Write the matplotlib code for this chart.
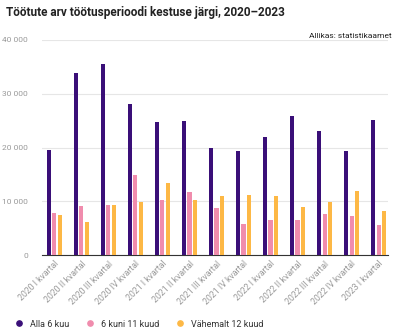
import numpy as np
import matplotlib.pyplot as plt
from matplotlib.ticker import FuncFormatter
from matplotlib.lines import Line2D

plt.rcParams['font.family'] = ['Roboto', 'DejaVu Sans']

quarters = ["2020 I kvartal", "2020 II kvartal", "2020 III kvartal", "2020 IV kvartal",
            "2021 I kvartal", "2021 II kvartal", "2021 III kvartal", "2021 IV kvartal",
            "2022 I kvartal", "2022 II kvartal", "2022 III kvartal", "2022 IV kvartal",
            "2023 I kvartal"]
alla_6 = [19600, 33900, 35500, 28100, 24800, 24900, 19900, 19300, 21900, 25900, 23000, 19300, 25100]
kuni_11 = [7800, 9100, 9250, 14900, 10250, 11700, 8700, 5700, 6450, 6450, 7700, 7300, 5600]
vahemalt_12 = [7450, 6100, 9250, 9800, 13400, 10250, 11050, 11150, 11050, 8950, 9800, 11900, 8200]

series = [("Alla 6 kuu", alla_6, "#3a0f78"),
          ("6 kuni 11 kuud", kuni_11, "#f08cad"),
          ("Vähemalt 12 kuud", vahemalt_12, "#fdb845")]

fig = plt.figure(figsize=(4, 3.33), dpi=100)
ax = fig.add_axes([0.105, 0.234, 0.865, 0.646])

x = np.arange(len(quarters))
for i, (name, vals, col) in enumerate(series):
    ax.bar(x + (i - 1) * 0.197, vals, width=0.15, color=col, zorder=3)

ax.set_ylim(0, 40000)
ax.set_xlim(-0.46, 12.35)
ax.set_yticks([0, 10000, 20000, 30000, 40000])
ax.yaxis.set_major_formatter(FuncFormatter(lambda v, p: f"{int(v):,}".replace(",", " ")))
ax.grid(axis='y', color='#e6e6e6', linewidth=0.8, zorder=0)
for s in ['top', 'right', 'left']:
    ax.spines[s].set_visible(False)
ax.spines['bottom'].set_color('#333333')
ax.spines['bottom'].set_linewidth(0.8)
ax.tick_params(axis='y', length=0, labelsize=6, labelcolor='#999999', pad=10)
ax.tick_params(axis='x', length=0, labelsize=6.3, labelcolor='#999999', pad=3)
ax.set_xticks(x)
ax.set_xticklabels(quarters, rotation=45, ha='right', rotation_mode='anchor')

fig.text(0.015, 0.962, "Töötute arv töötusperioodi kestuse järgi, 2020\u20132023",
         fontsize=8.5, fontweight='bold', va='center', ha='left', color='#222222')
fig.text(0.98, 0.893, "Allikas: statistikaamet", fontsize=6, va='center', ha='right',
         color='#222222')

handles = [Line2D([], [], marker='o', linestyle='none', markersize=3.8,
                  markerfacecolor=c, markeredgecolor=c) for _, _, c in series]
fig.legend(handles, [n for n, _, _ in series], loc='center left',
           bbox_to_anchor=(0.005, 0.027), ncol=3, frameon=False, fontsize=6.5,
           handletextpad=0.2, columnspacing=1.3, labelcolor='#333333')

fig.savefig("out.png", dpi=100)
